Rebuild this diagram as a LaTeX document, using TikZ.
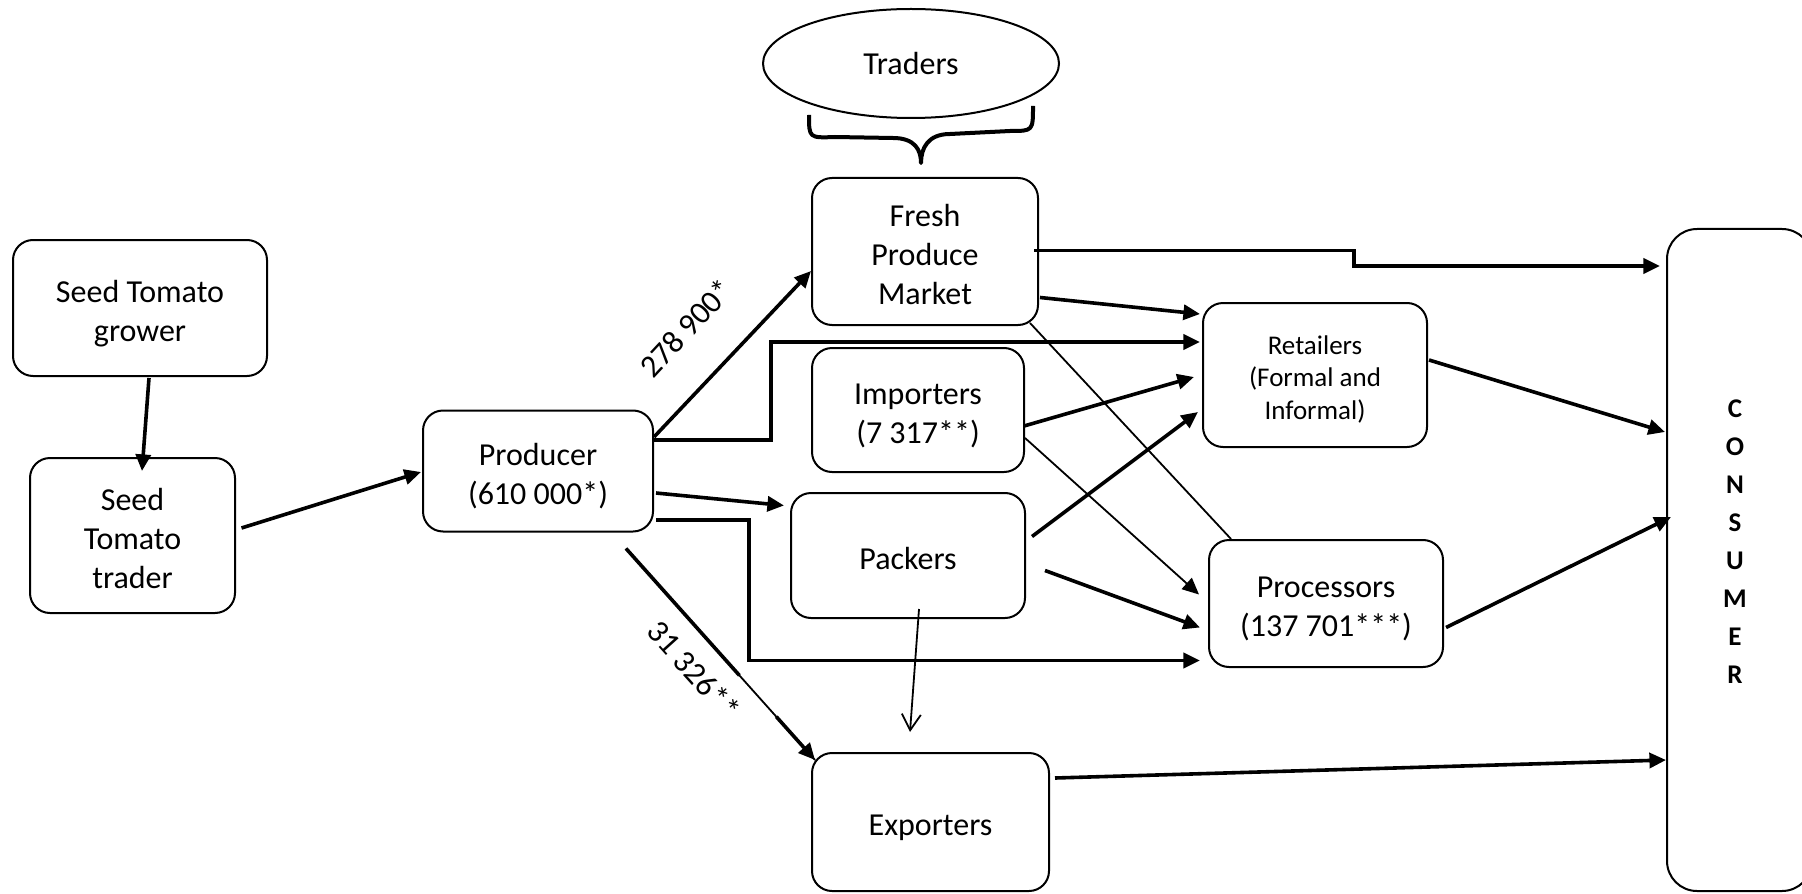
\documentclass[tikz,border=0pt]{standalone}
\usepackage{fontspec}
\setmainfont{Carlito}
\usetikzlibrary{arrows.meta,shapes.geometric,calc}
% line boxes with a fixed ascent and descent, so that every box centres its text the same way
\newcommand\linetopstrut{\rule{0pt}{1.14em}}
\newcommand\linebotstrut{\rule[-0.269em]{0pt}{0pt}}
\newcommand\boxtext[1]{\linetopstrut#1\linebotstrut}

\begin{document}
\begin{tikzpicture}[x=0.5pt,y=-0.5pt,
  box/.style={draw, line width=1pt, rounded corners=10pt, align=center, inner sep=0pt,
    font=\fontsize{16}{19.5}\selectfont},
  tip/.style={-{Triangle[length=8.3pt,width=7.5pt]}},
  flow/.style={line width=1.8pt, tip},
  flowplain/.style={line width=1.8pt},
  thinflow/.style={line width=0.9pt, tip},
  thinplain/.style={line width=0.9pt},
  openflow/.style={line width=0.9pt, -{Straight Barb[length=8pt,width=9.5pt]}},
  qty/.style={font=\fontsize{16}{19.5}\selectfont, inner sep=0pt}
]
\useasboundingbox (0,0) rectangle (1802,893);
\fill[white] (0,0) rectangle (1802,893);
\clip (0,0) rectangle (1802,893);

% ---- boxes ----
\node[box, minimum width=127pt, minimum height=68pt] (grower) at (140,308)
  {\linetopstrut Seed Tomato\\grower\linebotstrut};
\node[box, minimum width=102.5pt, minimum height=77.5pt] (trader) at (132.5,535.5)
  {\linetopstrut Seed\\Tomato\\trader\linebotstrut};
\node[box, minimum width=115pt, minimum height=60.5pt] (producer) at (538,471)
  {\linetopstrut Producer\\(610 000*)\linebotstrut};
\node[box, minimum width=113pt, minimum height=73.5pt] (fresh) at (925,251.5)
  {\linetopstrut Fresh\\Produce\\Market\linebotstrut};
\node[box, minimum width=106pt, minimum height=62pt] (importers) at (918,410)
  {\linetopstrut Importers\\(7 317**)\linebotstrut};
\node[box, minimum width=117pt, minimum height=62.5pt] (packers) at (908,555.5)
  {\boxtext{Packers}};
\node[box, minimum width=118.5pt, minimum height=69pt] (exporters) at (930.5,822)
  {\boxtext{Exporters}};
\node[box, minimum width=112pt, minimum height=72pt, font=\fontsize{13.5}{16.3}\selectfont] (retailers) at (1315,375)
  {\linetopstrut Retailers\\(Formal and\\Informal)\linebotstrut};
\node[box, minimum width=117pt, minimum height=63.5pt] (processors) at (1326,603.5)
  {\linetopstrut Processors\\(137 701***)\linebotstrut};
\node[box, rounded corners=15pt, minimum width=72.5pt, minimum height=331pt] (consumer) at (1739.5,560) {};
\node[align=center, inner sep=0pt, font=\bfseries\fontsize{13.5}{19}\selectfont] (consumertext)
  at ($(consumer.center)+(-4.5,-18)$) {C\\O\\N\\S\\U\\M\\E\\R};

% ---- traders grouped above the market ----
\node[draw, ellipse, line width=1pt, minimum width=148pt, minimum height=54.5pt, inner sep=0pt,
  font=\fontsize{16}{19.5}\selectfont] (traders) at (911,63.5) {Traders};
\draw[line width=2pt, line join=round]
  (809,115) .. controls (809,138) .. (835,137) -- (893,138)
  .. controls (915,138) and (921,150) .. (921,163)
  .. controls (921,148) and (928,134) .. (950,134) -- (1010,131)
  .. controls (1033,131) .. (1033,106);

% ---- seed chain ----
\draw[flow] ($(grower.south)+(9,1)$) -- ($(trader.north)+(9.5,14)$);
\draw[flow] ($(trader.east)+(5.5,-7.5)$) -- ($(producer.west)+(-1,1)$);

% ---- producer outputs ----
\draw[flow] ($(producer.east)+(0,-34)$) -- ($(fresh.west)+(0,19.5)$);
\node[qty, rotate=47] (lblfresh) at (686,328) {278 900*};
\draw[flow] ($(producer.east)+(0,-31)$) -- ++(117,0) |- ($(retailers.west)+(-2,-33)$);
\draw[flow] ($(producer.east)+(2,22)$) -- ($(packers.west)+(-6,-50)$);
\draw[flow] ($(producer.east)+(2,49)$) -- ++(93,0) |- ($(processors.west)+(-8,57)$);

\coordinate (xs) at ($(producer.south)+(88,16)$);
\coordinate (xe) at ($(exporters.north west)+(4,8)$);
\draw[thinplain] (xs) -- (xe);
\draw[flowplain] (xs) -- ($(xs)!0.6!(xe)$);
\draw[flow] ($(xs)!0.795!(xe)$) -- (xe);
\node[qty, rotate=-48] (lblexport) at (694,670) {31 326**};

% ---- market outputs ----
\draw[flow] ($(fresh.east)+(-5,-1)$) -- ++(320,0) |- ($(consumer.north west)+(-6,38)$);
\draw[flow] ($(fresh.east)+(1,46)$) -- ($(retailers.north west)+(-2,12)$);
\draw[thinplain] ($(fresh.south east)+(-9,-3)$) -- ($(processors.north west)+(23,0)$);

% ---- importers ----
\draw[flow] ($(importers.east)+(-1,16)$) -- ($(retailers.west)+(-8,2)$);
\draw[thinflow] ($(importers.east)+(0,28)$) -- ($(processors.west)+(-9,-9)$);

% ---- packers ----
\draw[flow] ($(packers.east)+(6,-19)$) -- ($(retailers.west)+(-4,37)$);
\draw[flow] ($(packers.east)+(19,15)$) -- ($(processors.west)+(-8,24)$);
\draw[openflow] ($(packers.south)+(11,-10)$) -- ($(exporters.north)+(-20.5,-20)$);

% ---- to the consumer ----
\draw[flow] ($(retailers.east)+(1,-15)$) -- ($(consumer.west)+(-1,-128)$);
\draw[flow] ($(processors.east)+(2,24)$) -- ($(consumer.west)+(5,-43)$);
\draw[flow] ($(exporters.east)+(5,-44)$) -- ($(consumer.west)+(0,200)$);
\end{tikzpicture}
\end{document}
